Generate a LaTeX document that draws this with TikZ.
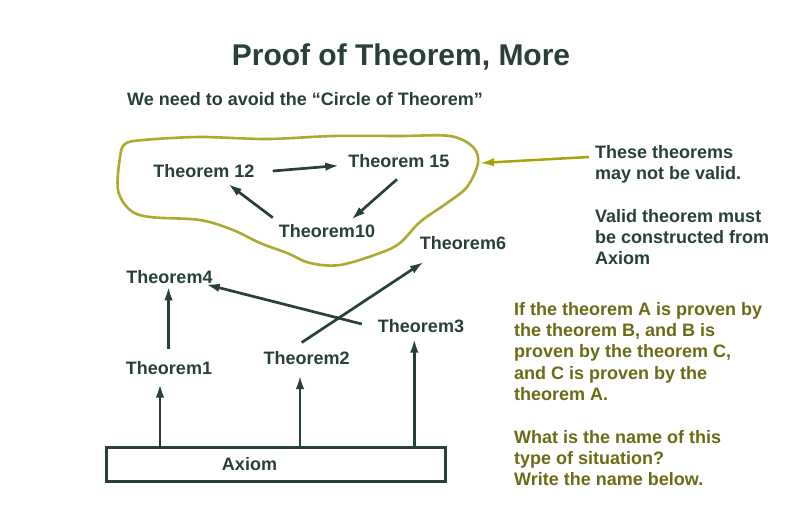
\documentclass[tikz,border=0pt]{standalone}
\usepackage{fontspec}
\setmainfont{Liberation Sans}
\usetikzlibrary{arrows.meta}
\definecolor{tinta}{RGB}{40,64,56}
\definecolor{oliva}{RGB}{107,107,22}
\definecolor{laco}{RGB}{172,170,48}
\definecolor{setaolive}{RGB}{165,165,10}

\begin{document}
\begin{tikzpicture}[x=1pt, y=-1pt, >={Latex[length=14pt, width=8.5pt]},
    every node/.style={inner sep=0pt, text=tinta, font=\fontsize{18}{21.3}\selectfont\bfseries},
    seta/.style={->, draw=tinta, line width=2.7pt}]
    % x=1pt, y=-1pt (coordenadas em pixels, y para baixo)
    \useasboundingbox (0,0) rectangle (799,525);

    % Titulos
    \node[anchor=base, font=\fontsize{30}{36}\selectfont\bfseries] (titulo) at (401,65) {Proof of Theorem, More};
    \node[anchor=base west] (subtitulo) at (127,105) {We need to avoid the “Circle of Theorem”};

    % Teoremas
    \node (t12) at (204,171) {Theorem 12};
    \node (t15) at (399,161.5) {Theorem 15};
    \node (t10) at (327,231.5) {Theorem10};
    \node (t6) at (463,243) {Theorem6};
    \node (t4) at (169.5,277.5) {Theorem4};
    \node (t3) at (421,326.5) {Theorem3};
    \node (t1) at (169,367.7) {Theorem1};
    \node (t2) at (306.7,358.3) {Theorem2};

    % Axioma
    \node[draw=tinta, line width=3pt, minimum width=338.5pt, minimum height=33.5pt,
          label={[xshift=-26.5pt]center:Axiom}] (axioma) at (276,464.3) {};

    % Circulo de teoremas
    \draw[laco, line width=2.6pt] plot[smooth cycle, tension=0.55] coordinates {
        (125,144) (143,140) (200,137) (267,139) (333,136) (400,136) (450,136)
        (473,147) (478,163) (467,187) (447,203) (420,222) (400,243) (380,253)
        (340,265) (310,263) (287,253) (260,243) (233,230) (200,220) (150,217)
        (130,210) (118,190) (120,157)};
    \coordinate (borda) at (480,163);

    % Setas do circulo
    \draw[seta] ([xshift=18pt]t12.east) -- ([xshift=-9pt, yshift=-4pt]t15.west);
    \draw[seta] ([xshift=-2pt, yshift=-11pt]t15.south) -- ([xshift=-24pt, yshift=5pt]t10.north east);
    \draw[seta] ([xshift=-6pt, yshift=7pt]t10.north west) -- ([xshift=24pt, yshift=-6pt]t12.south);

    % Setas a partir do axioma
    \draw[seta] ([xshift=-5pt, yshift=9pt]t2.north) -- ([xshift=4pt, yshift=-12pt]t6.south west);
    \draw[seta] ([xshift=-16pt, yshift=2.5pt]t3.west) -- ([xshift=-7pt]t4.south east);
    \draw[seta] ([xshift=-0.5pt, yshift=12pt]t1.north) -- ([xshift=-1pt, yshift=-2pt]t4.south);
    \draw[seta] ([xshift=-9pt]t1.south |- axioma.north) -- ([xshift=-9pt, yshift=-9pt]t1.south);
    \draw[seta] ([xshift=-6.7pt]t2.south |- axioma.north) -- ([xshift=-6.7pt, yshift=-10pt]t2.south);
    \draw[seta] ([xshift=-6.7pt]t3.south |- axioma.north) -- ([xshift=-6.7pt, yshift=-5.3pt]t3.south);

    % Notas
    \node[anchor=north west, align=left] (notas) at (595,145)
        {These theorems\\may not be valid.\\[21.3pt]Valid theorem must\\be constructed from\\Axiom};
    \node[anchor=north west, align=left, text=oliva] (pergunta) at (514,302)
        {If the theorem A is proven by\\the theorem B, and B is\\proven by the theorem C,\\and C is proven by the\\theorem A.\\[21.3pt]What is the name of this\\type of situation?\\Write the name below.};
    \draw[->, draw=setaolive, line width=2.5pt] ([xshift=-6pt, yshift=-12pt]notas.north west) -- (borda);
\end{tikzpicture}
\end{document}
